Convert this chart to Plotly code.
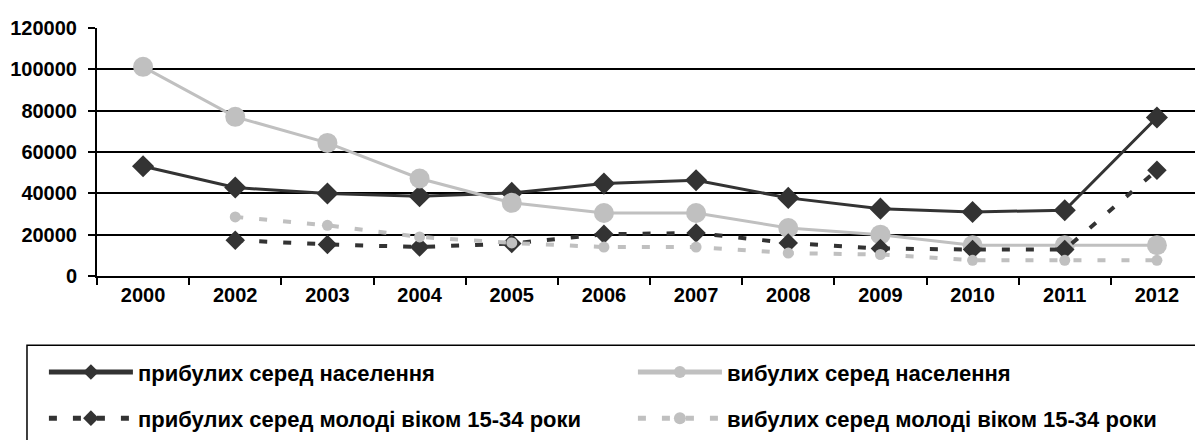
import plotly.graph_objects as go

years = ["2000", "2002", "2003", "2004", "2005", "2006", "2007", "2008", "2009", "2010", "2011", "2012"]

arrived_total = [53100, 42800, 39900, 38600, 40200, 44700, 46300, 37800, 32600, 31000, 31800, 76700]
departed_total = [101200, 77000, 64400, 47200, 35400, 30500, 30500, 23200, 20000, 14900, 14900, 14900]
arrived_youth = [None, 17300, 15300, 14000, 15700, 20200, 20800, 16000, 13300, 12800, 12800, 51200]
departed_youth = [None, 28600, 24500, 18900, 16000, 14000, 14000, 11100, 10400, 7600, 7600, 7600]

names = [
    "прибулих серед населення",
    "вибулих серед населення",
    "прибулих серед молоді віком 15-34 роки",
    "вибулих серед молоді віком 15-34 роки",
]

DARK = "#333333"
LIGHT = "#C0C0C0"
FONT = "Liberation Sans, Arial, sans-serif"

fig = go.Figure()
fig.add_trace(go.Scatter(
    x=years, y=arrived_total, name=names[0], mode="lines+markers",
    line=dict(color=DARK, width=3),
    marker=dict(symbol="diamond", size=17, color=DARK),
    legend="legend",
))
fig.add_trace(go.Scatter(
    x=years, y=departed_total, name=names[1], mode="lines+markers",
    line=dict(color=LIGHT, width=3),
    marker=dict(symbol="circle", size=20, color=LIGHT),
    legend="legend",
))
fig.add_trace(go.Scatter(
    x=years, y=arrived_youth, name=names[2], mode="lines+markers",
    line=dict(color=DARK, width=4, dash="8px,16px"),
    marker=dict(symbol="diamond", size=15, color=DARK),
    legend="legend2",
))
fig.add_trace(go.Scatter(
    x=years, y=departed_youth, name=names[3], mode="lines+markers",
    line=dict(color=LIGHT, width=4, dash="8px,16px"),
    marker=dict(symbol="circle", size=11, color=LIGHT),
    legend="legend2",
))

tick_font = dict(family=FONT, size=20, color="black", weight="bold")
legend_font = dict(family=FONT, size=22, color="black", weight="bold")


def legend_row(y):
    return dict(
        orientation="h",
        x=-0.048,
        xanchor="left",
        y=y,
        yanchor="middle",
        entrywidth=490,
        itemwidth=84,
        borderwidth=0,
        bgcolor="rgba(0,0,0,0)",
        itemsizing="constant",
        font=legend_font,
        traceorder="normal",
    )


# frame around both legend rows, running off the bottom like the original
fig.add_shape(
    type="rect", xref="paper", yref="paper",
    x0=-0.0633, x1=0.9946, y0=-0.279, y1=-0.75,
    line=dict(color="black", width=1.5),
    fillcolor="white", layer="below",
)

# page body adds an 8px offset, so the figure is 8px smaller than the window
fig.update_layout(
    width=1195,
    height=432,
    plot_bgcolor="white",
    paper_bgcolor="white",
    font=dict(family=FONT, size=17, color="black"),
    margin=dict(l=89, r=0, t=20, b=164, autoexpand=False),
    showlegend=True,
    legend=legend_row(-0.388),
    legend2=legend_row(-0.574),
)
fig.update_xaxes(
    type="category",
    range=[-0.5, 11.5],
    tickson="boundaries",
    ticks="outside",
    ticklen=7,
    tickcolor="black",
    tickwidth=1.5,
    showline=True,
    linecolor="black",
    linewidth=2,
    showgrid=False,
    tickfont=tick_font,
)
fig.update_yaxes(
    range=[0, 120000],
    dtick=20000,
    ticks="outside",
    ticklen=7,
    tickcolor="black",
    tickwidth=1.5,
    ticklabelstandoff=7,
    showline=True,
    linecolor="black",
    linewidth=2,
    showgrid=True,
    gridcolor="black",
    gridwidth=1.5,
    zeroline=False,
    tickformat="d",
    tickfont=tick_font,
)

fig.write_html("out.html")
